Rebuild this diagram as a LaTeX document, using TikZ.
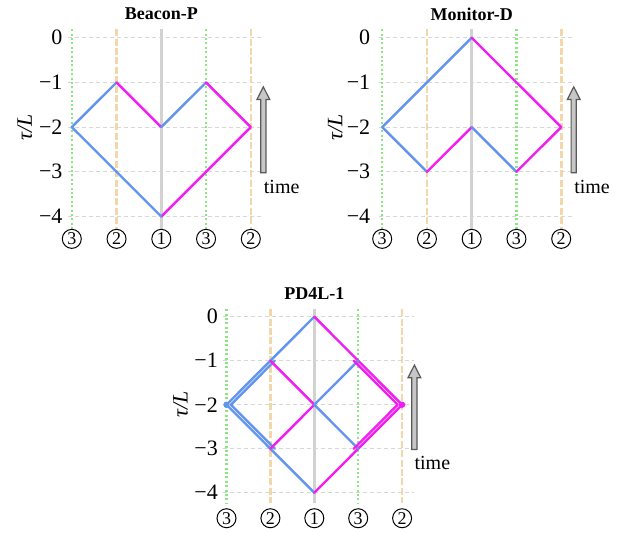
\documentclass[tikz,border=0pt]{standalone}
\usepackage{fontspec}
\setmainfont{Liberation Serif}
\definecolor{cblue}{RGB}{100,149,237}
\definecolor{cmag}{RGB}{240,30,240}
\definecolor{cgreen}{RGB}{140,230,130}
\definecolor{cwheat}{RGB}{242,215,170}
\definecolor{cgray}{RGB}{210,210,210}
\definecolor{cgrid}{RGB}{215,215,215}
\tikzset{
 hgrid/.style={cgrid, line width=0.4pt, dash pattern=on 2pt off 1.5pt},
 vthree/.style={cgreen, line width=1.2pt, dash pattern=on 1pt off 1.2pt},
 vtwo/.style={cwheat, line width=1.3pt, dash pattern=on 3.5pt off 1.2pt},
 vone/.style={cgray, line width=1.6pt},
 bl/.style={cblue, line width=1.2pt, line join=round, line cap=round},
 mg/.style={cmag, line width=1.2pt, line join=round, line cap=round},
 ticklab/.style={anchor=east, font=\fontsize{11}{13}\selectfont, inner sep=0pt},
 lab/.style={circle, draw, line width=0.5pt, minimum size=9.5pt, inner sep=0pt, font=\fontsize{9}{10}\selectfont},
 ttl/.style={font=\bfseries\fontsize{9}{11}\selectfont},
 txt/.style={font=\fontsize{10}{12}\selectfont, inner sep=0pt},
 timearrow/.style={draw=black!65, fill=black!22, line width=0.6pt, line join=miter},
}
% #1 prefix, #2 title, #3 label y, #4 line top, #5 line bottom, #6 tick label x
\newcommand\frameP[6]{%
 \foreach \k in {0,...,4} \draw[hgrid] (-2.08,-\k) -- (2.27,-\k);
 \draw[vthree] (-2,#4) -- (-2,#5);
 \draw[vtwo] (-1,#4) -- (-1,#5);
 \draw[vone] (0,#4) -- (0,#5);
 \draw[vthree] (1,#4) -- (1,#5);
 \draw[vtwo] (2,#4) -- (2,#5);
 \foreach \k in {0,...,4} \node[ticklab] (#1t\k) at (#6,-\k) {\ifnum\k=0 0\else −\k\fi};
 \node[lab] (#1ca) at (-2,#3) {3};
 \node[lab] (#1cb) at (-1,#3) {2};
 \node[lab] (#1cc) at (0,#3) {1};
 \node[lab] (#1cd) at (1,#3) {3};
 \node[lab] (#1ce) at (2,#3) {2};
 \node[ttl] (#1title) at (0,0.53) {#2};
 \node[txt, rotate=90, font=\fontsize{11}{13}\selectfont] (#1tau) at (-3.05,-2) {\itshape τ/L};
 \coordinate (#1tip) at (2.28,-1.1);
 \coordinate (#1base) at (2.28,-3.02);
 \draw[timearrow] (#1tip) -- ([xshift=3.2pt,yshift=-6.3pt]#1tip) -- ([xshift=1.3pt,yshift=-6.3pt]#1tip) -- ([xshift=1.3pt]#1base) -- ([xshift=-1.3pt]#1base) -- ([xshift=-1.3pt,yshift=-6.3pt]#1tip) -- ([xshift=-3.2pt,yshift=-6.3pt]#1tip) -- cycle;
 \node[txt] (#1time) at (2.69,-3.33) {time};
}
\begin{document}
\begin{tikzpicture}
\useasboundingbox (0,0) rectangle (317.5pt,-266pt);
% Panel 1
\begin{scope}[shift={(80.65pt,-18.85pt)}, x=22.375pt, y=22.35pt]
 \frameP{a}{Beacon-P}{-4.5}{0.19}{-4.27}{-2.2}
 \coordinate (a1) at (-2,-2); \coordinate (a2) at (-1,-1); \coordinate (a3) at (0,-2);
 \coordinate (a4) at (1,-1); \coordinate (a5) at (2,-2); \coordinate (a6) at (0,-4);
 \draw[bl] (a1) -- (a2);
 \draw[mg] (a2) -- (a3);
 \draw[bl] (a3) -- (a4);
 \draw[mg] (a4) -- (a5) -- (a6);
 \draw[bl] (a6) -- (a1);
\end{scope}
% Panel 2
\begin{scope}[shift={(235.85pt,-18.85pt)}, x=22.375pt, y=22.35pt]
 \frameP{b}{Monitor-D}{-4.5}{0.19}{-4.27}{-2.26}
 \coordinate (b0) at (0,0); \coordinate (b1) at (-2,-2); \coordinate (b2) at (-1,-3);
 \coordinate (b3) at (0,-2); \coordinate (b4) at (1,-3); \coordinate (b5) at (2,-2);
 \draw[bl] (b0) -- (b1) -- (b2);
 \draw[mg] (b2) -- (b3);
 \draw[bl] (b3) -- (b4);
 \draw[mg] (b4) -- (b5) -- (b0);
\end{scope}
% Panel 3
\begin{scope}[shift={(157.15pt,-158.35pt)}, x=21.95pt, y=22pt]
 \frameP{c}{PD4L-1}{-4.58}{0.17}{-4.24}{-2.19}
 \coordinate (c0) at (0,0); \coordinate (c1) at (-2,-2); \coordinate (c2) at (0,-4);
 \coordinate (c3) at (2,-2); \coordinate (c4) at (-1,-1); \coordinate (c5) at (-1,-3);
 \coordinate (c6) at (0,-2); \coordinate (c7) at (1,-1); \coordinate (c8) at (1,-3);
 \draw[bl] (c0) -- (c1) -- (c2);
 \draw[mg] (c0) -- (c3) -- (c2);
 \draw[bl] ([xshift=2.2pt]c4) -- ([xshift=2.2pt]c1) -- ([xshift=2.2pt]c5);
 \draw[mg] (c4) -- (c6) -- (c5);
 \draw[bl] (c7) -- (c6) -- (c8);
 \draw[mg] ([xshift=-2.2pt]c7) -- ([xshift=-2.2pt]c3) -- ([xshift=-2.2pt]c8);
 \fill[cblue] (c1) circle (1.6pt);
 \fill[cmag] (c3) circle (1.6pt);
\end{scope}
\end{tikzpicture}
\end{document}
